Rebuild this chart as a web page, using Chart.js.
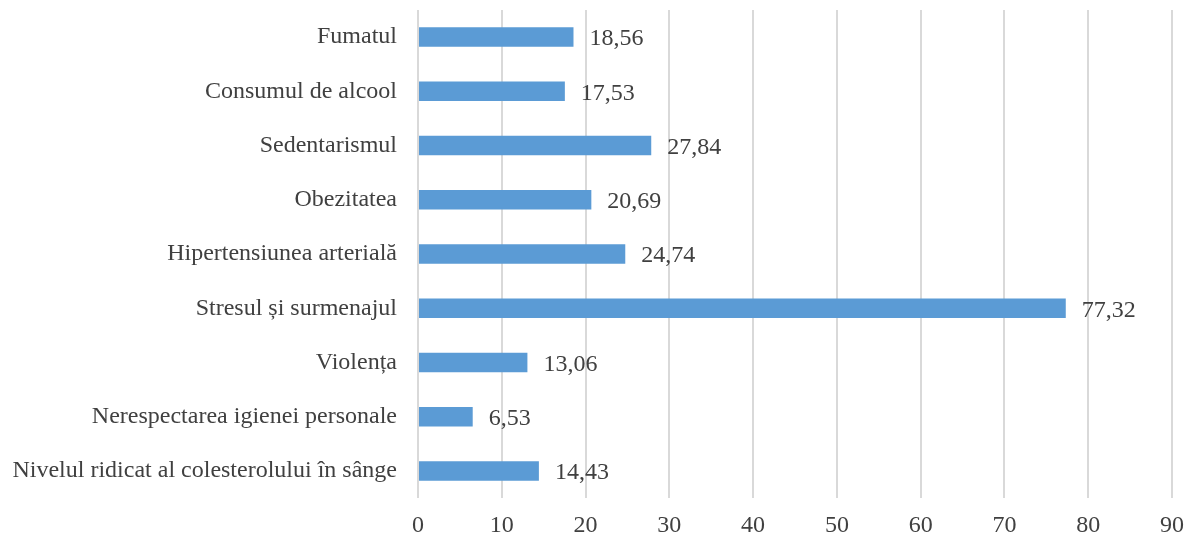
<!DOCTYPE html>
<html><head><meta charset="utf-8">
<script src="https://cdn.jsdelivr.net/npm/chart.js@4/dist/chart.umd.min.js"></script>
<style>html,body{margin:0;padding:0;background:#fff}#wrap{width:1194px;height:537px}</style>
</head><body><div id="wrap"><canvas id="c" width="1194" height="537"></canvas></div>
<script>
const categories = ["Fumatul","Consumul de alcool","Sedentarismul","Obezitatea","Hipertensiunea arterială","Stresul și surmenajul","Violența","Nerespectarea igienei personale","Nivelul ridicat al colesterolului în sânge"];
const values = [18.56,17.53,27.84,20.69,24.74,77.32,13.06,6.53,14.43];
const xTicks = [0,10,20,30,40,50,60,70,80,90];

const FONT = "'Liberation Serif','Times New Roman',serif";
const TXT = '#404040';

const labelPlugin = {
  id:'vals',
  afterDatasetsDraw(chart){
    const ctx = chart.ctx;
    const meta = chart.getDatasetMeta(0);
    ctx.save();
    ctx.font = '24px ' + FONT;
    ctx.fillStyle = TXT;
    ctx.textBaseline = 'middle';
    ctx.textAlign = 'left';
    meta.data.forEach((bar,i)=>{
      ctx.fillText(values[i].toFixed(2).replace('.',','), bar.x + 16, bar.y + 2);
    });
    ctx.restore();
  }
};

new Chart(document.getElementById('c'), {
  type:'bar',
  data:{labels:categories, datasets:[{data:values, backgroundColor:'#5B9BD5', borderWidth:0, barPercentage:0.72, categoryPercentage:0.5}]},
  options:{
    indexAxis:'y', responsive:false, animation:false,
    layout:{padding:{top:10,right:22,left:0,bottom:0}},
    plugins:{legend:{display:false}, tooltip:{enabled:false}},
    scales:{
      x:{min:0,max:90,
        afterBuildTicks(s){ s.ticks = xTicks.map(v=>({value:v})); },
        afterFit(s){ s.height = 39; s.paddingLeft = 0; s.paddingRight = 0; },
        grid:{color:'#D9D9D9', lineWidth:2, drawTicks:false},
        border:{display:false},
        ticks:{font:{family:FONT,size:24}, color:TXT, padding:13}
      },
      y:{
        afterFit(s){ s.width = 418; s.paddingTop = 0; s.paddingBottom = 0; },
        grid:{display:false, drawTicks:false},
        border:{display:false},
        ticks:{font:{family:FONT,size:24}, color:TXT, padding:21}
      }
    }
  },
  plugins:[labelPlugin]
});
</script></body></html>
